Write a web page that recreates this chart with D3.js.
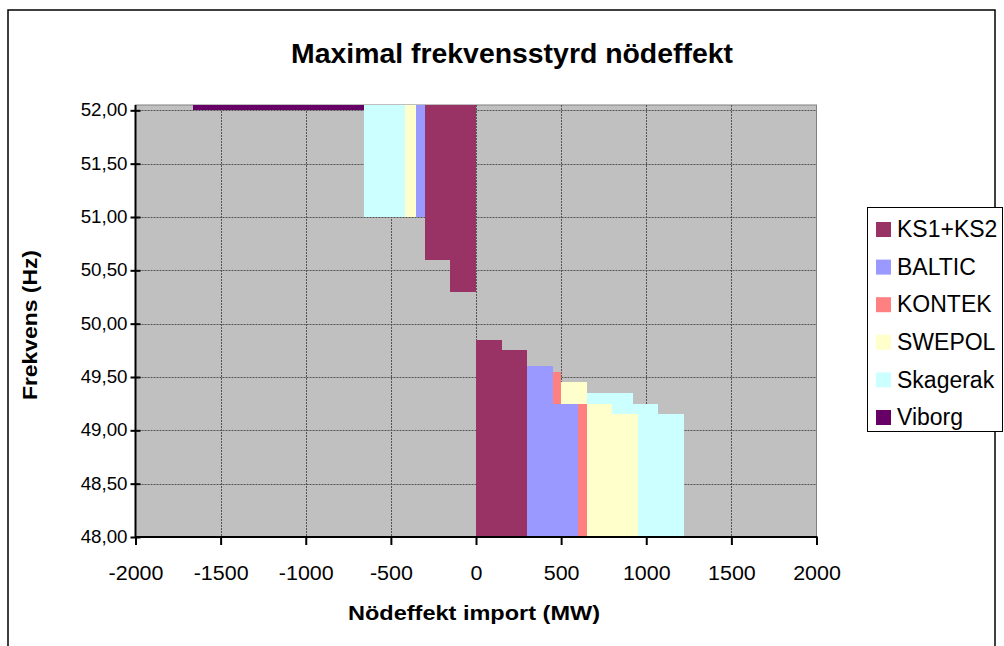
<!DOCTYPE html>
<html><head><meta charset="utf-8">
<script src="https://cdn.jsdelivr.net/npm/d3@7"></script>
<style>body{margin:0;background:#fff}svg{display:block}text{font-family:"Liberation Sans",Arial,sans-serif;fill:#000}</style>
</head><body><svg id="c" width="1004" height="646"></svg>
<script>
const seriesNames = ["KS1+KS2", "BALTIC", "KONTEK", "SWEPOL", "Skagerak", "Viborg"];
const seriesColors = ["#993366", "#9999FF", "#FF8080", "#FFFFCC", "#CCFFFF", "#660066"];
const bandLow  = [48.00, 49.15, 49.25, 49.35, 49.45, 49.55, 49.60, 49.75, 49.85, 50.30, 50.60, 51.00, 52.00];
const bandHigh = [49.15, 49.25, 49.35, 49.45, 49.55, 49.60, 49.75, 49.85, 50.30, 50.60, 51.00, 52.00, 52.05];
const ks       = [300, 300, 300, 300, 300, 300, 300, 150, 0, -150, -300, -300, -300];
const baltic   = [300, 300, 150, 150, 150, 150, 0, 0, 0, 0, 0, -50, -50];
const kontek   = [50, 50, 50, 50, 50, 0, 0, 0, 0, 0, 0, 0, 0];
const swepol   = [300, 150, 150, 150, 0, 0, 0, 0, 0, 0, 0, -65, -65];
const skagerak = [270, 270, 270, 0, 0, 0, 0, 0, 0, 0, 0, -245, -245];
const viborg   = [0, 0, 0, 0, 0, 0, 0, 0, 0, 0, 0, 0, -1000];
const xTicks = [-2000, -1500, -1000, -500, 0, 500, 1000, 1500, 2000];
const yTicks = [48, 48.5, 49, 49.5, 50, 50.5, 51, 51.5, 52];
const titleText = "Maximal frekvensstyrd nödeffekt";
const xTitle = "Nödeffekt import (MW)";
const yTitle = "Frekvens (Hz)";

const seriesValues = [ks, baltic, kontek, swepol, skagerak, viborg];
const rows = bandLow.map((lo, i) => {
  const r = {lo: lo, hi: bandHigh[i]};
  seriesNames.forEach((n, j) => r[n] = seriesValues[j][i]);
  return r;
});

const svg = d3.select("#c");
const P = {l: 135.5, r: 816.5, t: 105, b: 537};
const x = d3.scaleLinear().domain([-2000, 2000]).range([P.l, P.r]);
const y = d3.scaleLinear().domain([48, 52.05]).range([P.b, P.t]);

// outer border
svg.append("rect").attr("x", 8).attr("y", 10).attr("width", 987).attr("height", 700)
  .attr("fill", "#fff").attr("stroke", "#000").attr("stroke-width", 1.5);

// plot area
svg.append("rect").attr("x", P.l).attr("y", P.t).attr("width", P.r - P.l).attr("height", P.b - P.t)
  .attr("fill", "#C0C0C0").attr("stroke", "#808080").attr("stroke-width", 1);

// gridlines
const grid = svg.append("g").attr("stroke", "#555").attr("stroke-width", 1).attr("stroke-dasharray", "2,1");
grid.selectAll(".gy").data(yTicks.filter(d => d > 48)).join("line")
  .attr("x1", P.l).attr("x2", P.r).attr("y1", d => Math.round(y(d)) + 0.5).attr("y2", d => Math.round(y(d)) + 0.5);
grid.selectAll(".gx").data(xTicks.filter(d => d > -2000 && d < 2000)).join("line")
  .attr("y1", P.t).attr("y2", P.b).attr("x1", d => Math.round(x(d)) + 0.5).attr("x2", d => Math.round(x(d)) + 0.5);

// stacked steps
const stack = d3.stack().keys(seriesNames).offset(d3.stackOffsetDiverging);
const layers = stack(rows);
const g = svg.append("g");
layers.forEach((layer, j) => {
  g.append("g").attr("fill", seriesColors[j])
    .selectAll("rect").data(layer.filter(d => d[1] !== d[0])).join("rect")
    .attr("x", d => x(Math.min(d[0], d[1])))
    .attr("width", d => Math.abs(x(d[1]) - x(d[0])))
    .attr("y", d => y(d.data.hi))
    .attr("height", d => y(d.data.lo) - y(d.data.hi))
    .attr("shape-rendering", "crispEdges");
});

// axes
const fmtY = d => d3.format(".2f")(d).replace(".", ",");
const yAxis = svg.append("g").attr("transform", `translate(${P.l},0)`)
  .call(d3.axisLeft(y).tickValues(yTicks).tickFormat(fmtY).tickSize(5).tickPadding(3));
yAxis.select(".domain").remove();
yAxis.append("line").attr("x1", 0).attr("x2", 0).attr("y1", P.t).attr("y2", P.b + 1).attr("stroke", "#000").attr("stroke-width", 2);
yAxis.selectAll(".tick line").attr("x1", 5).attr("x2", -5).attr("stroke", "#000").attr("stroke-width", 2);
yAxis.selectAll(".tick text").attr("font-size", 17.5).attr("font-family", "Liberation Sans, Arial").attr("fill", "#000")
  .each(function() { this.setAttribute("textLength", this.getComputedTextLength() * 1.07); this.setAttribute("lengthAdjust", "spacingAndGlyphs"); });

const xAxis = svg.append("g").attr("transform", `translate(0,${P.b})`)
  .call(d3.axisBottom(x).tickValues(xTicks).tickFormat(d => String(d)).tickSize(8).tickPadding(21));
xAxis.select(".domain").remove();
xAxis.append("line").attr("x1", P.l).attr("x2", P.r + 1).attr("y1", 0).attr("y2", 0).attr("stroke", "#000").attr("stroke-width", 2);
xAxis.selectAll(".tick line").attr("stroke", "#000").attr("stroke-width", 2);
xAxis.selectAll(".tick text").attr("font-size", 19.5).attr("font-family", "Liberation Sans, Arial").attr("fill", "#000")
  .each(function() { this.setAttribute("textLength", this.getComputedTextLength() * 1.1); this.setAttribute("lengthAdjust", "spacingAndGlyphs"); });

// titles
svg.append("text").attr("x", 512).attr("y", 63).attr("text-anchor", "middle")
  .attr("font-size", 27).attr("font-weight", "bold").attr("textLength", 442).attr("lengthAdjust", "spacingAndGlyphs").text(titleText);
svg.append("text").attr("x", 474).attr("y", 620).attr("text-anchor", "middle")
  .attr("font-size", 21).attr("font-weight", "bold").attr("textLength", 252).attr("lengthAdjust", "spacingAndGlyphs").text(xTitle);
svg.append("text").attr("transform", "translate(37,325) rotate(-90)").attr("text-anchor", "middle")
  .attr("font-size", 21).attr("font-weight", "bold").attr("textLength", 150).attr("lengthAdjust", "spacingAndGlyphs").text(yTitle);

// legend
const L = svg.append("g");
L.append("rect").attr("x", 867.5).attr("y", 207.5).attr("width", 135).attr("height", 224)
  .attr("fill", "#fff").attr("stroke", "#000").attr("stroke-width", 1);
const li = L.selectAll(".li").data(seriesNames).join("g")
  .attr("transform", (d, i) => `translate(876,${229 + i * 37.6})`);
li.append("rect").attr("x", 0).attr("y", -7).attr("width", 15).attr("height", 15)
  .attr("fill", (d, i) => seriesColors[i]);
li.append("text").attr("x", 21).attr("y", 0).attr("dy", "0.36em").attr("font-size", 23).text(d => d);
</script></body></html>
